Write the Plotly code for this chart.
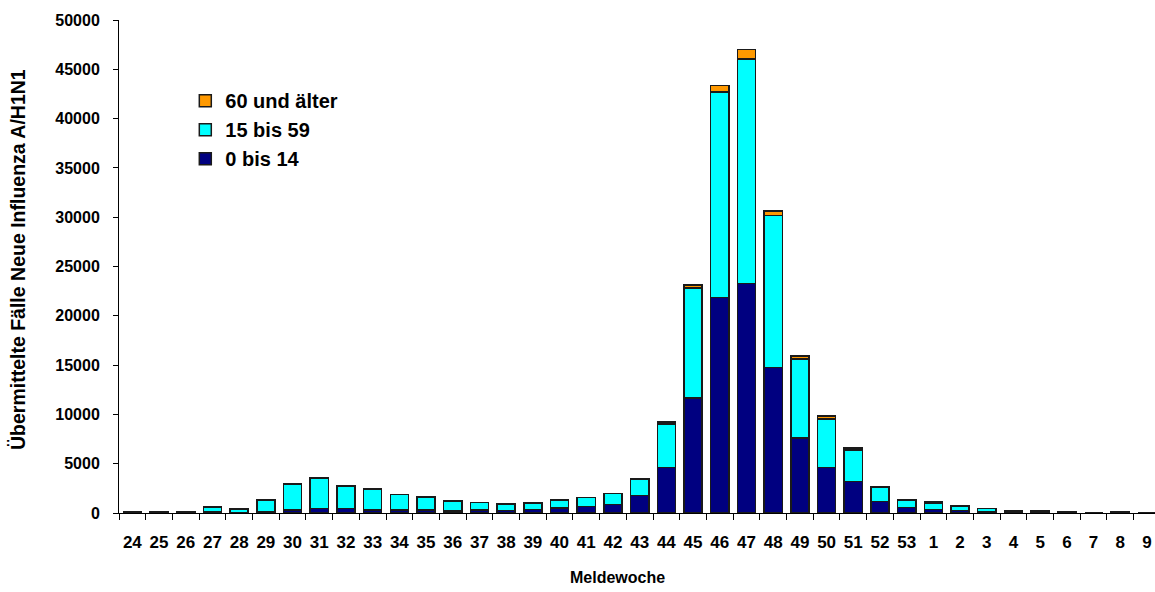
import plotly.graph_objects as go

weeks = [str(w) for w in range(24, 54)] + [str(w) for w in range(1, 10)]

age_0_14 = [40, 40, 40, 100, 60, 170, 300, 440, 440, 300, 300, 300, 200, 300, 270, 370,
            510, 680, 880, 1800, 4620, 11660, 21850, 23270, 14760, 7600, 4620, 3170, 1150,
            540, 380, 270, 170, 200, 200, 80, 0, 80, 0]
age_15_59 = [50, 40, 40, 480, 340, 1150, 2610, 3080, 2300, 2100, 1560, 1290, 990, 780, 610,
             640, 780, 880, 1080, 1620, 4400, 11140, 20850, 22790, 15400, 8040, 4910, 3220,
             1450, 780, 620, 410, 270, 60, 60, 30, 0, 30, 0]
age_60_plus = [5, 5, 5, 10, 5, 10, 20, 20, 20, 15, 15, 15, 10, 10, 10, 10, 15, 15, 20, 30,
               200, 310, 640, 930, 450, 300, 300, 200, 20, 15, 120, 10, 5, 5, 5, 5, 0, 5, 0]

y_ticks = list(range(0, 50001, 5000))

W, H = 1155, 592
L, T, B = 119, 20, 79
PW, PH = W - L, H - T - B

line = dict(color="#1a1a1a", width=1.5)
fig = go.Figure()
fig.add_trace(go.Bar(x=weeks, y=age_0_14, name="0 bis 14", marker=dict(color="#000080", line=line)))
fig.add_trace(go.Bar(x=weeks, y=age_15_59, name="15 bis 59", marker=dict(color="#00FFFF", line=line)))
fig.add_trace(go.Bar(x=weeks, y=age_60_plus, name="60 und älter", marker=dict(color="#FF9900", line=line)))

fig.update_layout(
    width=W, height=H,
    barmode="stack", bargap=0.32,
    plot_bgcolor="white", paper_bgcolor="white",
    margin=dict(l=L, r=0, t=T, b=B, pad=0),
    font=dict(family="Liberation Sans, Arial, sans-serif", size=16, color="black", weight="bold"),
    showlegend=True,
    legend=dict(x=0.064, y=0.876, xanchor="left", yanchor="top", traceorder="reversed",
                font=dict(size=20, weight="bold"), bgcolor="rgba(0,0,0,0)"),
    xaxis=dict(type="category", range=[-0.5, 38.3], showline=True, linecolor="black", linewidth=1,
               ticks="outside", tickson="boundaries", ticklen=6, tickcolor="black",
               showgrid=False, tickangle=0, tickfont=dict(size=17), automargin=False,
               ticklabelstandoff=14),
    yaxis=dict(range=[0, 50000], tickvals=y_ticks, tickformat="d", showline=True,
               linecolor="black", linewidth=1, automargin=False,
               ticks="outside", ticklen=5, tickcolor="black", showgrid=False, zeroline=False,
               tickfont=dict(size=16), ticklabelstandoff=10),
    annotations=[
        dict(text="Meldewoche", xref="paper", yref="paper", x=(617 - 119) / PW, y=-(577 - 513) / PH,
             xanchor="center", yanchor="middle", showarrow=False, font=dict(size=16, weight="bold")),
        dict(text="Übermittelte Fälle Neue Influenza A/H1N1", xref="paper", yref="paper",
             x=-(119 - 18) / PW, y=(513 - 260) / PH, textangle=-90,
             xanchor="center", yanchor="middle", showarrow=False, font=dict(size=19.5, weight="bold")),
    ],
)

fig.write_html(
    "out.html",
    config={"displayModeBar": False},
    post_script="document.body.style.margin='0';document.body.style.overflow='hidden';",
)
